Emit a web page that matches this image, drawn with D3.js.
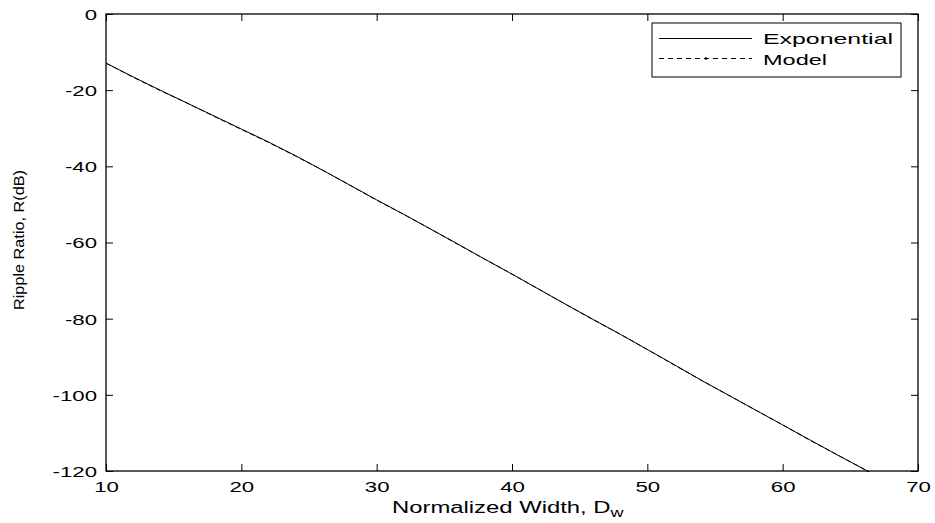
<!DOCTYPE html>
<html>
<head>
<meta charset="utf-8">
<script src="https://cdn.jsdelivr.net/npm/d3@7"></script>
<style>
  html, body { margin: 0; padding: 0; background: #fff; }
  svg { display: block; font-family: "Liberation Sans", Arial, sans-serif; }
</style>
</head>
<body>
<svg id="chart" width="935" height="523"></svg>
<script>
// ---- Data ----
const widths = [10, 12, 14, 16, 18, 20, 22, 24, 26, 28, 30, 32, 34, 36, 38, 40, 42, 44, 46, 48, 50, 52, 54, 56, 58, 60, 62, 64, 66, 66.4];
const exponentialR = [-12.9, -16.5, -20.0, -23.4, -26.8, -30.2, -33.6, -37.2, -41.0, -44.9, -48.8, -52.6, -56.5, -60.4, -64.4, -68.3, -72.3, -76.3, -80.2, -84.1, -88.1, -92.1, -96.2, -100.1, -104.0, -107.9, -111.8, -115.7, -119.5, -120.3];
const modelR = [-12.9, -16.6, -20.1, -23.4, -26.9, -30.3, -33.7, -37.3, -41.0, -44.9, -48.9, -52.6, -56.5, -60.5, -64.4, -68.3, -72.3, -76.3, -80.3, -84.1, -88.1, -92.2, -96.2, -100.1, -104.0, -107.9, -111.9, -115.7, -119.5, -120.3];
const xTicks = [10, 20, 30, 40, 50, 60, 70];
const yTicks = [0, -20, -40, -60, -80, -100, -120];
const seriesNames = ["Exponential", "Model"];

// ---- Layout ----
const svg = d3.select("#chart");
const L = 106, R = 918, T = 14, B = 471;
const x = d3.scaleLinear().domain([10, 70]).range([L, R]);
const y = d3.scaleLinear().domain([-120, 0]).range([B, T]);
const tickLen = 7;
const fontSize = 15;
const stretchK = 1.48;

function stretch(sel, k) {
  sel.each(function () {
    const w = this.getComputedTextLength();
    d3.select(this).attr("textLength", w * k).attr("lengthAdjust", "spacingAndGlyphs");
  });
}

// Axes with inward ticks on all four sides
const axB = svg.append("g").attr("transform", `translate(0,${B})`)
  .call(d3.axisBottom(x).tickValues(xTicks).tickSizeInner(-tickLen).tickSizeOuter(0).tickPadding(0));
const axT = svg.append("g").attr("transform", `translate(0,${T})`)
  .call(d3.axisTop(x).tickValues(xTicks).tickSizeInner(-tickLen).tickSizeOuter(0).tickFormat(""));
const axL = svg.append("g").attr("transform", `translate(${L},0)`)
  .call(d3.axisLeft(y).tickValues(yTicks).tickSizeInner(-tickLen).tickSizeOuter(0).tickPadding(0)
    .tickFormat(d => d === 0 ? "0" : "-" + Math.abs(d)));
const axR = svg.append("g").attr("transform", `translate(${R},0)`)
  .call(d3.axisRight(y).tickValues(yTicks).tickSizeInner(-tickLen).tickSizeOuter(0).tickFormat(""));

[axB, axT, axL, axR].forEach(g => {
  g.select(".domain").remove();
  g.selectAll(".tick line").attr("stroke", "#000").attr("stroke-width", 1);
  g.selectAll("text").attr("fill", "#000").style("font-size", fontSize + "px")
    .style("font-family", "'Liberation Sans', Arial, sans-serif");
});
axB.selectAll(".tick text").attr("y", 21).attr("dy", null);
axL.selectAll(".tick text").attr("x", -9).attr("dy", "0.36em");
stretch(axB.selectAll(".tick text"), stretchK);
stretch(axL.selectAll(".tick text"), stretchK);

// Box
svg.append("rect").attr("x", L).attr("y", T).attr("width", R - L).attr("height", B - T)
  .attr("fill", "none").attr("stroke", "#000").attr("stroke-width", 1.3);

// Lines
const lineGen = d3.line().x(d => x(d[0])).y(d => y(d[1]));
const expData = widths.map((w, i) => [w, exponentialR[i]]);
const modData = widths.map((w, i) => [w, modelR[i]]);

svg.append("clipPath").attr("id", "clip").append("rect")
  .attr("x", L).attr("y", T).attr("width", R - L).attr("height", B - T + 1);

svg.append("path").datum(expData).attr("d", lineGen).attr("fill", "none")
  .attr("stroke", "#000").attr("stroke-width", 1).attr("clip-path", "url(#clip)");
svg.append("path").datum(modData).attr("d", lineGen).attr("fill", "none")
  .attr("stroke", "#000").attr("stroke-width", 1).attr("stroke-dasharray", "5,3").attr("clip-path", "url(#clip)");

// Legend
const lg = svg.append("g");
lg.append("rect").attr("x", 652).attr("y", 23).attr("width", 249).attr("height", 54)
  .attr("fill", "#fff").attr("stroke", "#000").attr("stroke-width", 1);
lg.append("line").attr("x1", 659).attr("x2", 752).attr("y1", 38.5).attr("y2", 38.5)
  .attr("stroke", "#000").attr("stroke-width", 1);
lg.append("line").attr("x1", 659).attr("x2", 752).attr("y1", 58.5).attr("y2", 58.5)
  .attr("stroke", "#000").attr("stroke-width", 1).attr("stroke-dasharray", "5,4");
lg.append("circle").attr("cx", 706).attr("cy", 58.5).attr("r", 1.3).attr("fill", "#000");
const legText = lg.selectAll("text.leg").data(seriesNames).enter().append("text").attr("class", "leg")
  .attr("x", 763).attr("y", (d, i) => 43.5 + i * 21)
  .style("font-size", "14.5px").attr("fill", "#000").text(d => d);
legText.attr("textLength", (d, i) => i === 0 ? 130 : 64).attr("lengthAdjust", "spacingAndGlyphs");

// Axis titles
const xt = svg.append("text").attr("x", 392).attr("y", 513)
  .attr("text-anchor", "start").style("font-size", "16px").attr("fill", "#000");
const xtMain = xt.append("tspan").text("Normalized Width, D");
stretch(xtMain, 1.49);
xt.append("tspan").attr("dy", 4).style("font-size", "12px").text("w")
  .attr("textLength", 13).attr("lengthAdjust", "spacingAndGlyphs");

svg.append("text").attr("transform", `translate(24,240) rotate(-90)`)
  .attr("text-anchor", "middle").style("font-size", "15px").attr("fill", "#000")
  .attr("textLength", 140).attr("lengthAdjust", "spacingAndGlyphs")
  .text("Ripple Ratio, R(dB)");
</script>
</body>
</html>
